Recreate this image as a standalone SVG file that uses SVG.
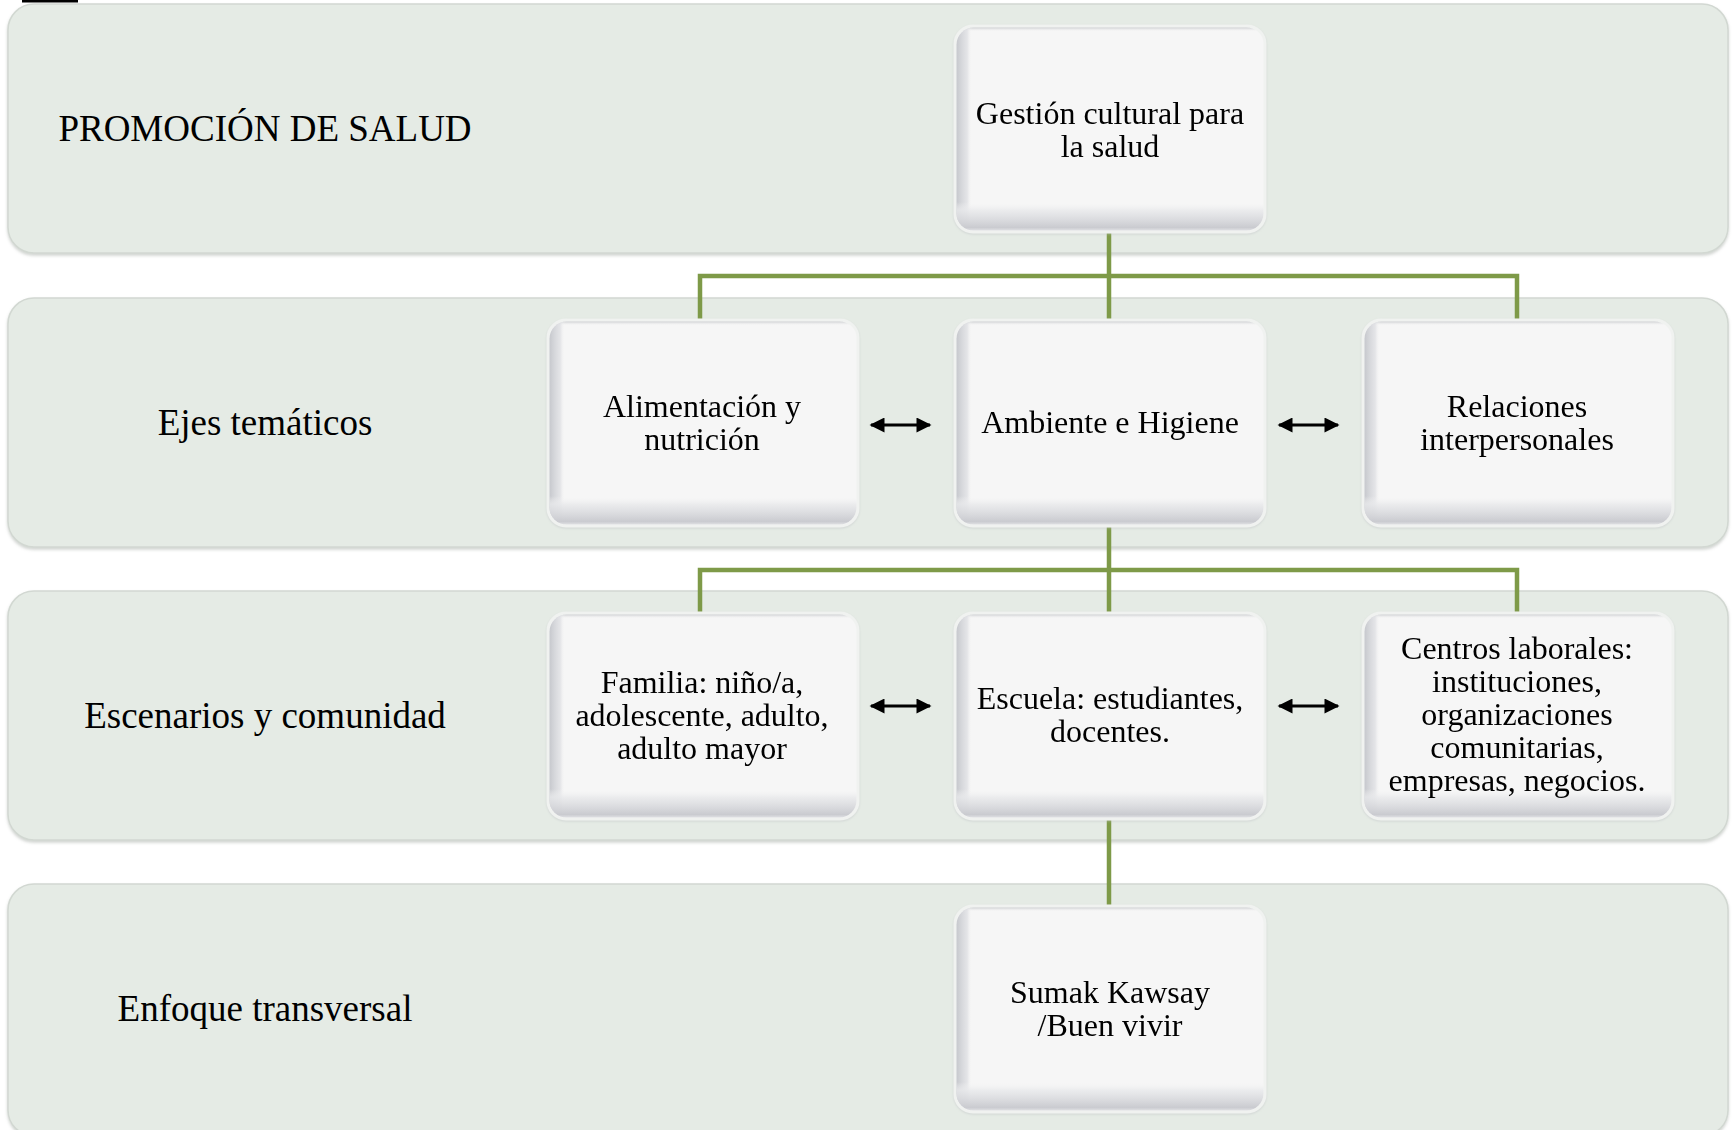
<svg xmlns="http://www.w3.org/2000/svg" width="1735" height="1130" viewBox="0 0 1735 1130">
<style>
.band{fill:#e5ebe5;stroke:#d2d8d2;stroke-width:1.5;filter:url(#bsh)}
.lbl{font-family:"Liberation Serif","Times New Roman",serif;font-size:37px;fill:#000;text-anchor:middle;dominant-baseline:central}
.nt{font-family:"Liberation Serif","Times New Roman",serif;font-size:32px;fill:#000;text-anchor:middle;dominant-baseline:central}
.face{fill:#f6f6f6;stroke:#f0f2f0;stroke-width:3}
.bl{fill:url(#gl)}
.bb{fill:url(#gb)}
.bt{fill:url(#gt)}
.conn{fill:none;stroke:#7e9a48;stroke-width:4.5}
.arr{fill:none;stroke:#000;stroke-width:3;marker-start:url(#ah);marker-end:url(#ah)}
</style>
<defs>
<filter id="bsh" x="-2%" y="-5%" width="104%" height="112%">
<feDropShadow dx="0" dy="2" stdDeviation="1.5" flood-color="#9aa09a" flood-opacity="0.45"/>
</filter>
<filter id="nsh" x="-5%" y="-5%" width="110%" height="112%">
<feDropShadow dx="0" dy="1" stdDeviation="1.2" flood-color="#b8bbbf" flood-opacity="0.45"/>
</filter>
<linearGradient id="gl" x1="0" y1="0" x2="1" y2="0">
<stop offset="0" stop-color="#c6c8cd" stop-opacity="1"/>
<stop offset="0.035" stop-color="#dcdde1" stop-opacity="0.7"/>
<stop offset="0.05" stop-color="#f6f6f6" stop-opacity="0"/>
</linearGradient>
<linearGradient id="gb" x1="0" y1="0" x2="0" y2="1">
<stop offset="0.86" stop-color="#f6f6f6" stop-opacity="0"/>
<stop offset="0.9" stop-color="#e8e9eb" stop-opacity="0.8"/>
<stop offset="0.985" stop-color="#cacbd0" stop-opacity="1"/>
<stop offset="1" stop-color="#dfe0e3" stop-opacity="1"/>
</linearGradient>
<linearGradient id="gt" x1="0" y1="0" x2="0" y2="1">
<stop offset="0" stop-color="#c9cbce" stop-opacity="0.9"/>
<stop offset="0.02" stop-color="#f6f6f6" stop-opacity="0"/>
</linearGradient>
<marker id="ah" viewBox="0 0 10 10" refX="9" refY="5" markerWidth="6" markerHeight="5" markerUnits="strokeWidth" orient="auto-start-reverse">
<path d="M0,0 L10,5 L0,10 z" fill="#000"/>
</marker>
<g id="bevel">
<rect class="face" x="0" y="0" width="310" height="206" rx="18"/>
<rect class="bt" x="1.5" y="1.5" width="307" height="203" rx="17"/>
<rect class="bl" x="1.5" y="1.5" width="307" height="203" rx="17"/>
<rect class="bb" x="1.5" y="1.5" width="307" height="203" rx="17"/>
</g>
</defs>

<rect x="22" y="0" width="56" height="2.5" fill="#000"/>

<g id="band-promocion">
<rect class="band" x="8" y="4" width="1720" height="249" rx="26"/>
<text class="lbl" x="265" y="128">PROMOCIÓN DE SALUD</text>
</g>
<g id="band-ejes">
<rect class="band" x="8" y="298" width="1720" height="249" rx="26"/>
<text class="lbl" x="265" y="422">Ejes temáticos</text>
</g>
<g id="band-escenarios">
<rect class="band" x="8" y="591" width="1720" height="249" rx="26"/>
<text class="lbl" x="265" y="715">Escenarios y comunidad</text>
</g>
<g id="band-enfoque">
<rect class="band" x="8" y="884" width="1720" height="252" rx="26"/>
<text class="lbl" x="265" y="1008">Enfoque transversal</text>
</g>

<g id="connectors">
<path class="conn" d="M1109,233 V320 M700,320 V276 H1517 V320"/>
<path class="conn" d="M1109,527 V613 M700,613 V570 H1517 V613"/>
<path class="conn" d="M1109,820 V906"/>
<line class="arr" x1="871" y1="425" x2="930" y2="425"/>
<line class="arr" x1="1279" y1="425" x2="1338" y2="425"/>
<line class="arr" x1="871" y1="706" x2="930" y2="706"/>
<line class="arr" x1="1279" y1="706" x2="1338" y2="706"/>
</g>

<g id="node-gestion" filter="url(#nsh)">
<use href="#bevel" x="955" y="26"/>
<text class="nt" x="1110" y="113">Gestión cultural para</text>
<text class="nt" x="1110" y="146">la salud</text>
</g>

<g id="node-alimentacion" filter="url(#nsh)">
<use href="#bevel" x="548" y="320"/>
<text class="nt" x="702" y="406">Alimentación y</text>
<text class="nt" x="702" y="439">nutrición</text>
</g>
<g id="node-ambiente" filter="url(#nsh)">
<use href="#bevel" x="955" y="320"/>
<text class="nt" x="1110" y="422">Ambiente e Higiene</text>
</g>
<g id="node-relaciones" filter="url(#nsh)">
<use href="#bevel" x="1363" y="320"/>
<text class="nt" x="1517" y="406">Relaciones</text>
<text class="nt" x="1517" y="439">interpersonales</text>
</g>

<g id="node-familia" filter="url(#nsh)">
<use href="#bevel" x="548" y="613"/>
<text class="nt" x="702" y="682">Familia: niño/a,</text>
<text class="nt" x="702" y="715">adolescente, adulto,</text>
<text class="nt" x="702" y="748">adulto mayor</text>
</g>
<g id="node-escuela" filter="url(#nsh)">
<use href="#bevel" x="955" y="613"/>
<text class="nt" x="1110" y="698">Escuela: estudiantes,</text>
<text class="nt" x="1110" y="731">docentes.</text>
</g>
<g id="node-centros" filter="url(#nsh)">
<use href="#bevel" x="1363" y="613"/>
<text class="nt" x="1517" y="648">Centros laborales:</text>
<text class="nt" x="1517" y="681">instituciones,</text>
<text class="nt" x="1517" y="714">organizaciones</text>
<text class="nt" x="1517" y="747">comunitarias,</text>
<text class="nt" x="1517" y="780">empresas, negocios.</text>
</g>

<g id="node-sumak" filter="url(#nsh)">
<use href="#bevel" x="955" y="906"/>
<text class="nt" x="1110" y="992">Sumak Kawsay</text>
<text class="nt" x="1110" y="1025">/Buen vivir</text>
</g>
</svg>
